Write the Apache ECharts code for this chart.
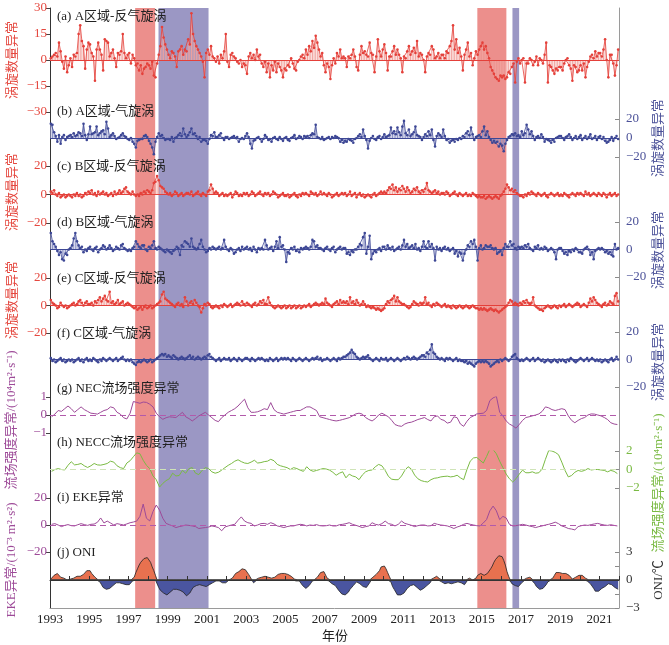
<!DOCTYPE html>
<html>
<head>
<meta charset="utf-8">
<script src="https://cdn.jsdelivr.net/npm/echarts@6/dist/echarts.min.js"></script>
<style>
  html, body { margin: 0; padding: 0; background: #fff; }
  #chart { width: 669px; height: 645px; }
</style>
</head>
<body>
<div id="chart"></div>
<script>
// monthly eddy-count anomalies, one row per year 1993..2021
const aAnti = [
  1, 2, 3, 4, 2, 10, 5, -1, -5, 2, -7, -3,
  1, -4, 3, 2, 4, 15, 20, 11, 8, -5, 6, 10,
  9, 4, 2, -12, 6, 10, 6, 3, -6, 12, 11, 10,
  2, 4, 6, 1, -4, 4, 3, 5, 15, 4, 1, 3,
  4, -2, 3, 1, -3, -2, -6, -3, -8, -5, -4, -2,
  -3, -5, -1, -9, -10, -2, 3, 8, 19, 13, 9, 6,
  3, 1, 5, 4, 2, -4, 5, 6, 8, 3, 6, 5,
  12, 9, 27, 15, 11, 8, 6, 4, 2, -1, -10, 4,
  6, 3, 8, 2, 1, -1, 2, -2, 3, 1, 5, 15,
  -1, -4, 3, 4, 2, 1, -1, -2, 0, -4, -2, -3,
  -8, 2, 4, 1, 3, 0, 6, 2, 3, -2, -4, -1,
  -7, -2, -10, -3, -6, -1, -7, -2, -4, -6, -10, -5,
  -6, -3, -4, 1, -2, -5, -6, -1, 0, 2, 3, 1,
  6, 3, 8, 5, 11, 7, 14, 10, 6, 2, 4, -3,
  -7, -2, -4, -11, -3, 1, -2, 4, 2, 6, 1, 2,
  1, -4, 2, 1, 3, 6, 2, -4, -6, 3, 8, 4,
  5, 3, 2, 10, 4, 3, -7, 2, 12, 5, 2, 6,
  9, 4, -6, 2, 2, 5, 8, 3, 6, 3, 1, -7,
  2, 1, 5, 8, 3, 5, 7, 4, 11, 2, 4, 3,
  0, -7, 2, 4, 3, 8, 6, 1, 2, 4, 1, 3,
  3, 1, 5, 4, 8, 11, 20, 6, 12, 4, 7, 2,
  -6, 3, 6, 10, 2, 4, -3, 1, 5, 3, 6, 8,
  10, 6, 8, 4, 1, -4, -6, -8, -10, -11, -12, -9,
  -10, -9, -11, -10, -7, -8, -4, -2, -13, -1, 1, -2,
  0, 1, -13, -2, -2, 1, 0, -3, -1, 2, -3, 1,
  0, -2, 3, 10, -13, -3, -4, -6, -8, -5, -6, -4,
  -4, -6, -2, 0, 1, -3, -5, -12, -3, -4, -7, -6,
  -3, -6, -2, -10, -4, -1, 2, 3, 1, 5, 2, 4,
  4, 2, 6, 12, 0, -10, 3, 3, -2, -9, -3, 6
];
const aCyc = [
  15, 14, 6, 2, -4, 3, -6, 1, 3, -2, 1, 2,
  3, 1, 5, 2, 3, 6, 5, 2, 15, 3, -2, 4,
  12, 4, 5, 6, 12, 3, 5, 7, 8, 4, 17, 10,
  1, 3, 5, 2, -1, 0, 1, 3, 5, 2, 1, -1,
  -2, 0, -4, -6, -10, -3, -2, -1, -1, 2, 3, 1,
  -3, -6, -10, -17, -4, 1, 5, 2, 3, 0, -2, -1,
  -1, -2, 1, -4, 0, 1, 3, 5, 2, 10, 4, 1,
  3, 6, 10, 4, 5, 2, -1, 1, -4, -2, -2, -3,
  -6, -1, 3, 2, 6, 1, 1, 3, 5, 0, -2, 1,
  1, -1, 0, 1, 2, 0, 1, -4, -1, 0, -1, 2,
  5, 1, -6, -11, -3, -2, 0, 1, -1, -4, -1, 3,
  1, -2, -1, -4, 0, 1, -1, -2, 1, -1, -3, 0,
  1, -2, -3, 0, 1, 3, -1, 0, 2, 1, -1, 2,
  1, 2, 0, 3, 5, 4, 14, 1, 0, -1, 1, -2,
  -1, 0, 1, -1, 1, 0, 2, 1, 0, -4, -2, -5,
  -3, -4, -1, -2, -3, -5, -1, 0, 2, 4, 1, 9,
  2, -2, -11, -3, 0, 2, -1, -2, 1, 2, -1, 1,
  4, 1, 2, 3, 11, 5, 7, 4, 11, 6, 3, 12,
  18, 5, 3, 9, 2, 4, 6, 12, 3, 2, 1, -2,
  1, 4, 2, 7, 3, 9, -2, -9, 2, 5, 3, 1,
  9, 2, -2, -1, -5, -3, -2, -4, -1, -2, 0, -1,
  2, 1, 5, 7, 3, 11, 4, -2, 1, 2, 3, 1,
  7, 12, 3, 7, 1, -2, -5, -3, -5, -4, -9, -6,
  -8, -14, -6, -2, 1, 2, 4, 3, 5, 2, 3, 1,
  7, 3, 5, 14, 9, 4, 7, 2, -2, 1, 2, 0,
  4, 1, -4, -1, -2, -3, -5, -2, -4, 0, 1, 2,
  2, 0, -2, 1, 2, 4, 1, -2, 0, 2, -1, 1,
  3, -2, 0, 2, -1, 1, 4, -1, 0, 2, -2, 1,
  2, -1, 1, -3, -5, -4, -2, 1, -3, 0, 2, -1
];
const bAnti = [
  2, 1, 3, 0, -1, 1, -2, -1, 0, -2, -1, 0,
  -1, -2, 0, -1, 1, -1, 0, -2, -1, 1, 0, 2,
  1, 3, 0, 1, -1, 2, 0, 1, 2, 0, 1, -1,
  0, 1, -1, 2, 0, 1, 3, 1, 2, 4, 5, 2,
  1, 0, 2, 0, -1, 0, -1, 1, 0, 2, 1, 3,
  2, 1, 3, 8, 9, 13, 10, 6, 5, 4, 2, 1,
  0, 1, -1, 0, 2, 1, -1, 0, 1, -1, 0, 1,
  1, 0, 2, -1, 0, 1, 2, 0, -1, 1, 0, -1,
  2, 3, 7, 4, 1, 2, 1, -1, 0, 1, -1, 0,
  -1, 0, 1, -2, 0, 2, 1, -1, 0, -1, 1, 0,
  1, -1, 0, 2, 1, -1, 0, 1, 2, 0, -1, 1,
  0, 1, -1, 0, 2, 1, 0, -2, -1, 0, 1, -1,
  -1, 0, -2, -1, 0, 1, -1, -2, 0, -1, 1, 0,
  1, 0, -1, 2, 1, 0, 1, -1, 0, 2, 0, 1,
  0, -1, 1, 0, -2, -1, 0, 1, -1, 0, 1, 0,
  1, -1, 0, 2, -1, 0, 1, -2, 0, 1, -1, 0,
  -2, -1, 0, -1, -2, 0, 1, -1, 0, 1, 2, 1,
  2, 1, 3, 5, 4, 7, 3, 5, 2, 4, 3, 6,
  4, 2, 5, 3, 1, 2, 4, 3, 5, 2, 1, 3,
  2, 4, 8, 3, 2, 1, 2, 3, 1, 2, 0, 1,
  1, 0, 2, 1, -1, 0, 1, 2, 0, -1, 1, 0,
  -1, 0, 1, -1, 0, -1, 1, 0, -1, -2, -1, -2,
  -2, -1, -3, -2, -1, -2, -3, -2, -1, -2, -3, -1,
  0, 2, 4, 7, 5, 3, 4, 2, 3, 1, 0, -1,
  -1, -2, 0, -1, 1, 0, 2, 1, 0, -1, 1, 0,
  -1, 0, 1, -1, -2, 0, 1, 0, -1, 0, 1, -1,
  0, -1, 1, 0, -1, -2, 0, 1, 0, -1, 1, 0,
  1, 0, -1, 2, 0, 1, -1, 0, 1, 0, -1, 1,
  0, -1, 1, 0, -2, 0, 1, -1, 0, 1, -1, 0
];
const bCyc = [
  12, 6, 4, 2, -1, -4, -2, -7, -8, -3, -4, 0,
  1, 3, 8, 12, 6, 3, 1, 2, -2, 0, -1, 1,
  2, 0, -1, 1, 2, -2, 0, 1, 3, 2, 0, 1,
  3, 1, -1, 0, 2, 1, 0, 3, 4, 1, 0, -1,
  0, -1, 1, 2, 6, 4, 2, 1, 3, 3, 0, -1,
  2, 1, 3, 6, 1, 0, 2, 1, 0, -1, -2, 0,
  -1, -2, -3, -1, 0, 2, 1, -4, 3, 2, 6, 5,
  4, 2, 8, 2, 1, 0, 1, 4, 7, 2, 0, -2,
  -1, 1, 0, 2, 1, 0, 1, 2, 0, 1, 7, 2,
  0, -1, 1, 0, -3, -2, 0, 1, -1, 2, 0, 1,
  2, 0, 1, -1, 2, 0, -2, 1, 0, 1, 0, 7,
  3, 0, 1, 2, -1, 2, 6, 1, 9, 2, 3, 0,
  -9, -2, -3, 1, 0, 2, -1, 0, -2, 1, 0, 1,
  2, 1, 0, 2, 7, 6, 2, 3, 1, 1, 0, -1,
  1, 2, 0, -1, 1, 2, -2, 0, 1, 2, 0, 1,
  1, -3, -2, -4, -1, -2, 0, 0, 2, 4, 3, 9,
  12, -3, 2, 10, -7, -3, -1, -2, 0, 1, -1, 2,
  2, 0, 3, 1, 0, 2, -1, 0, 1, 2, 0, 3,
  7, 2, 4, 1, 2, 3, 1, 4, 0, 1, -1, 2,
  6, 2, 1, 6, 2, 4, 1, -8, 2, 0, 1, -1,
  1, 2, 0, 1, -1, 0, 1, -3, -1, -5, -2, -3,
  -8, -3, 0, 3, 2, 6, 4, 7, 2, -8, 1, 3,
  0, 1, 3, 2, 2, 3, 1, 0, 1, -3, -2, -1,
  -4, 1, 4, 2, 2, 6, 3, 4, 1, 0, 2, 1,
  2, 1, 3, 2, 4, 1, 0, -1, 2, 1, 3, 0,
  1, 0, 2, 1, -1, 0, 1, 0, -2, -7, 0, 1,
  1, -1, -3, -2, -4, -1, -2, 0, -1, 1, 0, -2,
  -2, -3, 0, 1, 2, 0, -4, -2, -7, -1, 0, 1,
  0, 1, 0, -2, -1, -3, -2, -4, -5, 4, 0, 1
];
const cAnti = [
  4, 2, 1, 0, -2, -1, 2, 0, -1, 0, -2, -1,
  0, 1, 2, 0, 1, 3, 4, 2, 0, 2, 3, 1,
  1, 2, 0, 3, 2, 4, 6, 3, 5, 7, 4, 3,
  10, 2, 3, 1, 2, 4, 1, 2, 3, 0, 1, 2,
  1, 0, -1, -2, -1, -3, -2, -1, -3, -1, 0, -2,
  -1, 0, -2, -1, 0, 1, 2, 3, 8, 10, 5, 4,
  3, 2, 1, 0, -1, 1, 2, 0, 1, -1, 6, 3,
  0, 2, 3, 1, 4, 2, 0, -1, -5, -2, 1, 0,
  2, 1, -1, -2, -1, 0, -1, -2, 0, -1, 1, 0,
  -1, 0, 1, -1, 0, 1, 2, 1, 0, 3, 1, 0,
  2, 1, 0, -1, 1, 2, 0, 1, 3, 2, 4, 1,
  1, 6, 2, 0, -1, -2, -1, 0, -1, -2, -1, 0,
  -2, -1, 0, -2, -1, 0, -2, -1, 0, -2, -1, 0,
  -1, 0, 1, -1, 0, 1, 2, 1, 0, 1, 2, 1,
  5, 2, 1, 0, -1, 1, 2, 3, 1, 4, 2, 3,
  2, 3, 1, 6, 2, 3, 1, 4, 2, 0, 1, 3,
  1, -1, 0, -1, -2, -1, -2, -3, -2, -3, -4, -3,
  -2, 1, 3, 2, 4, 5, 7, 3, 6, 3, 2, 1,
  1, 0, -1, -2, -1, 1, 3, 2, 1, 0, 2, 1,
  2, 6, 1, 2, 0, -1, 1, 0, 2, 1, 0, -1,
  0, 1, -1, 0, -1, -2, 0, -1, -2, -1, 0, -1,
  -2, -1, 0, -1, -2, -1, 0, -1, -2, -2, -3, -2,
  -3, -2, -3, -4, -3, -2, -3, -4, -3, -4, -5, -4,
  -3, -2, -1, 0, 2, 4, 3, 1, 2, 1, 0, 2,
  1, 3, 2, 4, 2, 1, 2, 6, 0, -1, -2, -3,
  -3, -4, -2, -1, 0, -1, -2, -1, 0, -1, -2, 0,
  -1, 0, 1, -1, 0, 1, 0, -1, 0, 1, 2, 1,
  -1, 0, 1, 0, -1, 2, 5, 3, 6, 4, 2, 1,
  0, -1, 1, 2, 0, 1, 3, 2, 1, 7, 9, 3
];
const cCyc = [
  1, -1, 0, -2, -1, 0, 1, -1, 0, -2, -1, 0,
  -1, 0, -2, -1, 0, 1, -1, 0, -2, 0, 1, -1,
  0, -1, 1, 0, -1, -2, 0, -1, 1, 0, -1, 0,
  1, 0, -1, 0, 1, -1, 0, 1, 2, 0, -1, 0,
  -1, 0, -2, -3, -4, -2, -1, -2, -1, 0, -1, -2,
  -1, 0, -2, -1, 0, 1, 2, 3, 4, 3, 4, 2,
  3, 2, 1, 3, 2, 1, 0, 1, 2, 1, 0, 1,
  2, 3, 1, 2, 0, 1, 2, 1, 0, 1, 2, 1,
  3, 4, 2, 1, 0, -1, 0, 1, -1, 0, 1, 0,
  0, 1, -1, 0, 1, 0, -1, 1, 0, -1, 0, 1,
  1, 0, -1, 1, 0, -1, 0, 1, 0, 1, 0, -1,
  0, -1, 1, 0, -1, 0, 1, -1, 0, 1, 0, 1,
  0, 1, 0, -1, 1, 0, -1, 0, 1, 0, -1, 0,
  1, 0, -1, 0, 1, 0, 1, 2, 0, 1, -1, 0,
  0, 1, 0, -1, 0, 1, 0, -1, 1, 0, 1, 2,
  2, 3, 4, 5, 7, 5, 4, 2, 1, 0, 1, 2,
  1, 2, 3, 1, 0, -1, 0, 1, 0, -1, 1, 0,
  0, 1, -1, 0, 1, 0, -1, 0, 1, 0, -1, 0,
  1, 0, 2, 1, 0, 1, 2, 1, 0, 1, 2, 3,
  3, 2, 5, 4, 7, 11, 5, 4, 2, 1, 0, 1,
  0, -1, 1, 0, 1, 0, -1, 0, 1, -1, 0, -1,
  -1, -2, -1, -3, -2, -3, -4, -5, -3, -2, -1, -2,
  -1, -2, -1, -2, -3, -5, -4, -3, -2, -1, -2, 0,
  -1, 0, 1, 0, -1, 0, 2, 3, 4, 1, 0, -1,
  0, -1, 0, 1, 0, -1, 0, 1, -1, 0, 1, 0,
  -1, 0, -2, -1, 0, -1, -2, -1, 0, -1, -2, 0,
  -1, 0, -1, -2, 0, -1, 1, 0, -1, -2, -1, 0,
  1, 0, -1, 0, 1, -1, 0, 1, 0, -1, 0, -1,
  0, -2, -1, 0, -1, -2, 0, 1, -1, 0, 2, 0
];

// bimonthly current / EKE anomalies, six values per year 1993..2021
const necFlow = [
  -0.1, 0.05, 0.25, 0.2, 0.35, 0.5,
  0.35, 0.15, 0.3, 0.45, 0.3, 0.2,
  0.1, 0.08, 0.05, 0.15, 0.25, 0.3,
  0.45, 0.4, 0.15, 0.05, -0.15, -0.22,
  0.1, 0.75, 0.7, 0.65, 0.72, 0.7,
  0.6, 0.45, 0.1, -0.1, -0.24, -0.15,
  -0.1, -0.12, -0.14, 0.0, 0.15, -0.1,
  -0.2, -0.33, -0.2, -0.05, 0.05, 0.15,
  0.0, -0.15, -0.3, -0.37, -0.15, 0.0,
  0.15, 0.25, 0.35, 0.5, 0.7, 0.88,
  0.4, 0.15, 0.15, 0.18, 0.25, 0.35,
  0.3, 0.69, 0.3, 0.15, 0.1, 0.05,
  0.1, 0.15, 0.2, 0.25, 0.25, 0.35,
  0.45, 0.45, 0.35, 0.25, -0.1, -0.15,
  -0.2, -0.25, -0.3, -0.33, -0.3, -0.25,
  -0.2, -0.15, -0.05, 0.06, 0.1, 0.05,
  -0.14, -0.25, -0.33, -0.2, 0.0, 0.1,
  0.0, -0.1, -0.3, -0.53, -0.6, -0.63,
  -0.5, -0.43, -0.4, -0.33, -0.25, -0.2,
  -0.14, -0.25, -0.33, -0.1, -0.05, -0.24,
  -0.3, -0.45, -0.4, -0.1, -0.15, -0.5,
  -0.63, -0.35, -0.14, -0.05, 0.06, 0.08,
  0.1, 0.25, 0.8, 0.95, 1.04, 0.16,
  -0.05, -0.33, -0.5, -0.6, -0.73, -0.53,
  -0.3, -0.14, -0.1, -0.05, 0.0, 0.06,
  0.2, 0.45, 0.4, 0.3, 0.25, 0.3,
  0.35, 0.3, -0.05, -0.3, -0.43, -0.3,
  -0.2, -0.14, 0.0, 0.06, 0.05, 0.0,
  -0.05, -0.14, -0.25, -0.43, -0.5, -0.53
];
const neccFlow = [
  -0.2, 0.0, 0.1, 0.0, -0.05, 0.45,
  0.84, 0.5, 0.55, 0.65, 0.4, 0.22,
  0.4, 0.65, 0.5, 0.47, 0.55, 0.65,
  0.9, 0.8, 0.4, 0.2, 0.1, 0.7,
  0.95, 1.38, 1.8, 1.7, 1.0, 0.45,
  0.1, -0.7, -1.1, -1.9, -1.5, -1.2,
  -1.0, -0.4, -0.7, -0.65, -0.1, -0.4,
  0.1, 0.2, -0.4, -0.55, -0.1, 0.2,
  0.1, -0.25, -0.4, -0.3, -0.07, 0.2,
  0.45, 0.65, 0.9, 1.05, 0.85, 0.7,
  0.65, 0.8, 1.0, 0.7, 0.75, 0.85,
  0.9, 1.1, 0.95, 0.55, 0.4, 0.3,
  0.2, 0.0, 0.2, 0.1, -0.07, -0.2,
  0.3, -0.05, -0.2, -0.1, 0.0, 0.1,
  0.05, -0.07, -0.3, -0.62, -0.4, -0.25,
  -0.9, -0.5, -0.7, -0.8, -1.1, -0.6,
  -0.25, -0.1, -0.05, 0.3, 0.55, 0.4,
  -0.1, -0.75, -1.05, -1.1, -1.1, -0.7,
  -0.1, 0.3, 0.05, -0.6, -1.0, -1.2,
  -1.3, -1.35, -1.1, -0.95, -0.9, -0.8,
  -0.75, -0.72, -0.8, -0.75, -0.62, -0.9,
  -1.1, 0.0, 0.9, 1.25, 1.3, 1.0,
  0.7, 1.4, 2.2, 2.15, 1.7, 0.9,
  0.2, -0.5, -1.0, -1.35, -1.0, -0.5,
  -0.07, -0.35, -0.35, -0.25, -0.4, -0.35,
  0.05, 1.1, 2.05, 2.0, 1.85, 1.6,
  0.8, -0.1, -0.8, -0.65, -0.3, -0.1,
  -0.2, -0.1, 0.1, -0.05, 0.0, 0.0,
  -0.05, -0.1, -0.25, -0.1, -0.2, -0.44
];
const ekeAnom = [
  0.5, 1.0, 0.0, -1.2, -0.3, 0.3,
  -0.5, -0.7, 0.2, 1.0, 0.3, -0.3,
  0.5, 0.7, 2.0, 5.2, 1.5, 2.9,
  1.5, 0.0, 1.0, 0.5, 0.0, 0.8,
  1.7, 2.2, 2.9, 6.4, 15.5, 5.0,
  3.0, 10.0, 14.8, 11.0, 5.0, 1.2,
  0.2, -0.7, -1.9, -1.2, -0.7, 0.0,
  -0.3, -0.7, -1.2, -2.6, -2.2, -1.9,
  -1.5, -0.7, -1.2, -1.9, -4.3, -1.5,
  -0.7, 0.0, 0.5, 3.5, 6.0, 2.9,
  1.7, 1.2, -0.7, 0.0, 1.0, 1.2,
  0.5, 1.7, 0.8, -0.7, -1.2, -1.9,
  -1.2, -0.7, -0.7, 0.0, 0.5, 0.2,
  -0.7, 0.0, -0.3, 0.3, -0.5, -0.7,
  -0.5, 0.0, -0.7, -0.7, 0.2, 0.5,
  1.0, 1.7, 0.5, -0.2, -1.0, -1.9,
  -1.2, -0.7, 1.7, 0.5, 0.0, 1.0,
  2.9, 1.0, 0.5, -0.7, 0.5, 2.9,
  1.2, 0.5, -0.2, -1.2, -0.5, 0.0,
  0.0, -0.7, -0.5, 1.2, 0.5, 0.0,
  -0.3, -0.7, -1.5, -2.6, -1.5, -0.7,
  0.5, 1.2, 0.5, 0.0, -0.5, -0.7,
  1.5, 4.0, 10.5, 14.0, 10.5, 4.0,
  6.4, 5.2, 0.5, -0.7, -0.5, 0.0,
  0.5, 0.0, -0.7, -1.2, -1.9, -1.2,
  -0.7, 0.0, 0.5, 1.2, 2.1, 1.0,
  -0.7, -1.5, -2.6, -3.0, -3.6, -1.2,
  -0.5, 0.0, -0.3, 0.3, 0.8, 1.2,
  0.5, 0.0, -0.3, 0.2, -0.3, -0.7
];

// monthly ONI (°C), 1993..2021
const oni = [
  0.1, 0.3, 0.5, 0.7, 0.7, 0.6, 0.3, 0.3, 0.2, 0.1, 0.0, 0.1,
  0.1, 0.1, 0.2, 0.3, 0.4, 0.4, 0.4, 0.4, 0.6, 0.7, 1.0, 1.1,
  1.0, 0.7, 0.5, 0.3, 0.1, 0.0, -0.2, -0.5, -0.8, -1.0, -1.0, -1.0,
  -0.9, -0.8, -0.6, -0.4, -0.3, -0.3, -0.3, -0.3, -0.4, -0.4, -0.5, -0.5,
  -0.5, -0.4, -0.1, 0.3, 0.8, 1.2, 1.6, 1.9, 2.1, 2.3, 2.4, 2.4,
  2.2, 1.9, 1.4, 1.0, 0.5, -0.1, -0.8, -1.1, -1.3, -1.4, -1.5, -1.6,
  -1.5, -1.3, -1.1, -1.0, -1.0, -1.0, -1.1, -1.1, -1.2, -1.3, -1.5, -1.7,
  -1.7, -1.4, -1.1, -0.8, -0.7, -0.6, -0.6, -0.5, -0.5, -0.6, -0.7, -0.7,
  -0.7, -0.5, -0.4, -0.3, -0.3, -0.1, -0.1, -0.1, -0.2, -0.3, -0.3, -0.3,
  -0.1, 0.0, 0.1, 0.2, 0.4, 0.7, 0.8, 0.9, 1.0, 1.2, 1.3, 1.1,
  0.9, 0.6, 0.4, 0.0, -0.3, -0.2, 0.1, 0.2, 0.3, 0.3, 0.4, 0.4,
  0.4, 0.3, 0.2, 0.2, 0.2, 0.3, 0.5, 0.6, 0.7, 0.7, 0.7, 0.7,
  0.6, 0.6, 0.4, 0.4, 0.3, 0.1, -0.1, -0.1, -0.1, -0.3, -0.6, -0.8,
  -0.9, -0.8, -0.6, -0.4, -0.1, 0.0, 0.1, 0.3, 0.5, 0.8, 0.9, 0.9,
  0.7, 0.2, -0.1, -0.3, -0.4, -0.5, -0.6, -0.8, -1.1, -1.3, -1.5, -1.6,
  -1.6, -1.5, -1.3, -1.0, -0.8, -0.6, -0.4, -0.2, -0.2, -0.4, -0.6, -0.7,
  -0.8, -0.8, -0.6, -0.3, 0.0, 0.3, 0.5, 0.6, 0.7, 1.0, 1.4, 1.6,
  1.5, 1.2, 0.8, 0.4, -0.2, -0.7, -1.0, -1.3, -1.6, -1.6, -1.6, -1.6,
  -1.4, -1.2, -0.9, -0.7, -0.6, -0.4, -0.5, -0.6, -0.8, -1.0, -1.1, -1.0,
  -0.9, -0.7, -0.6, -0.5, -0.3, 0.0, 0.2, 0.4, 0.4, 0.3, 0.1, -0.2,
  -0.4, -0.4, -0.3, -0.3, -0.4, -0.4, -0.4, -0.3, -0.3, -0.2, -0.2, -0.3,
  -0.4, -0.5, -0.3, 0.0, 0.2, 0.2, 0.0, 0.1, 0.2, 0.5, 0.6, 0.7,
  0.5, 0.5, 0.5, 0.7, 0.9, 1.2, 1.5, 1.9, 2.2, 2.4, 2.6, 2.6,
  2.5, 2.1, 1.6, 0.9, 0.4, -0.1, -0.4, -0.5, -0.6, -0.7, -0.7, -0.6,
  -0.3, -0.2, 0.1, 0.2, 0.3, 0.3, 0.1, -0.1, -0.4, -0.7, -0.8, -1.0,
  -0.9, -0.9, -0.7, -0.5, -0.2, 0.0, 0.1, 0.2, 0.5, 0.8, 0.9, 0.8,
  0.7, 0.7, 0.7, 0.7, 0.5, 0.5, 0.3, 0.1, 0.2, 0.3, 0.5, 0.5,
  0.5, 0.5, 0.4, 0.2, -0.1, -0.3, -0.4, -0.6, -0.9, -1.2, -1.3, -1.2,
  -1.0, -0.9, -0.8, -0.7, -0.5, -0.4, -0.4, -0.5, -0.7, -0.8, -1.0, -1.0
];

// shaded El Nino / La Nina periods (decimal years)
const warmSpans = [[1997.34, 1998.36], [2014.78, 2016.26]];
const coldSpans = [[1998.53, 2001.08], [2016.57, 2016.91]];

const firstYear = 1993;
const lastYear = 2022;

const FONT = '"Liberation Serif", "Times New Roman", "Noto Sans CJK SC", serif';
const RED = '#e4403a', RED_STEM = '#f1a29d', RED_TXT = '#e5483f';
const BLUE = '#3d4795', BLUE_STEM = '#8c92c5', BLUE_TXT = '#4c5299';
const MAG = '#9d4a98', MAG_ZERO = '#b25aab', GREEN = '#7aba43';
const WARM = '#ec8f8c', COLD = '#9b97c4';

// decimal-year position of each monthly / bimonthly sample
const monthX = [];
const biX = [];
for (let y = firstYear; y < lastYear; y++) {
  for (let m = 0; m < 12; m++) monthX.push(y + (m + 0.5) / 12);
  for (let k = 0; k < 6; k++) biX.push(y + (2 * k + 1) / 12);
}

const panels = [
  { title: '(a) A区域-反气旋涡', top: 8, height: 104, min: -30, max: 30, step: 15, side: 'left', txt: RED_TXT, titleY: 17 },
  { title: '(b) A区域-气旋涡', top: 119, height: 38, min: -20, max: 20, step: 20, side: 'right', txt: BLUE_TXT, titleY: 112 },
  { title: '(c) B区域-反气旋涡', top: 166, height: 57, min: -20, max: 20, step: 20, side: 'left', txt: RED_TXT, titleY: 167 },
  { title: '(d) B区域-气旋涡', top: 222, height: 55, min: -20, max: 20, step: 20, side: 'right', txt: BLUE_TXT, titleY: 223 },
  { title: '(e) C区域-反气旋涡', top: 278, height: 55, min: -20, max: 20, step: 20, side: 'left', txt: RED_TXT, titleY: 279 },
  { title: '(f) C区域-气旋涡', top: 332, height: 55, min: -20, max: 20, step: 20, side: 'right', txt: BLUE_TXT, titleY: 334 },
  { title: '(g) NEC流场强度异常', top: 397, height: 36, min: -1, max: 1, step: 1, side: 'left', txt: MAG, titleY: 389 },
  { title: '(h) NECC流场强度异常', top: 451, height: 37, min: -2, max: 2, step: 2, side: 'right', txt: GREEN, titleY: 443 },
  { title: '(i) EKE异常', top: 498, height: 54, min: -20, max: 20, step: 20, side: 'left', txt: MAG, titleY: 498 },
  { title: '(j) ONI', top: 552, height: 56, min: -3, max: 3, step: 1.5, side: 'right', txt: '#333', titleY: 553 }
];
const FRAME = panels.length;

const minus = v => (v < 0 ? '\u2212' + (-v) : String(v));

const grids = panels.map(p => ({ left: 50, right: 50, top: p.top, height: p.height }));
grids.push({ left: 50, right: 50, top: 8, height: 600 });

const xAxes = panels.map((p, i) => ({
  gridIndex: i, type: 'value', min: firstYear, max: lastYear, interval: 1,
  show: i === panels.length - 1,
  axisLine: { show: true, lineStyle: { color: '#333', width: 1 } },
  axisTick: { show: true, inside: true, length: 4, lineStyle: { color: '#333' } },
  axisLabel: {
    color: '#222', fontSize: 13, fontFamily: FONT, margin: 5,
    formatter: v => (v % 2 === 1 ? String(v) : '')
  },
  splitLine: { show: false }, z: 6
}));
xAxes.push({
  gridIndex: FRAME, type: 'value', min: firstYear, max: lastYear, position: 'top',
  axisLine: { show: true, lineStyle: { color: '#9a9a9a' } },
  axisTick: { show: false }, axisLabel: { show: false }, splitLine: { show: false }
});

const yAxes = panels.map((p, i) => ({
  gridIndex: i, type: 'value', position: p.side, min: p.min, max: p.max, interval: p.step,
  axisLine: { show: false }, splitLine: { show: false },
  axisTick: { show: true, inside: p.side === 'right', length: 4, lineStyle: { color: p.side === 'left' ? '#444' : '#8a8a8a' } },
  axisLabel: {
    color: p.txt, fontSize: 13, fontFamily: FONT, margin: p.side === 'left' ? 3 : 7,
    formatter: v => (p.step === 1.5 && v % 3 !== 0 ? '' : minus(v))
  }
}));
yAxes.push(
  { gridIndex: FRAME, type: 'value', position: 'left', min: 0, max: 1, axisLine: { show: true, lineStyle: { color: '#333' } }, axisTick: { show: false }, axisLabel: { show: false }, splitLine: { show: false } },
  { gridIndex: FRAME, type: 'value', position: 'right', min: 0, max: 1, axisLine: { show: true, lineStyle: { color: '#9a9a9a' } }, axisTick: { show: false }, axisLabel: { show: false }, splitLine: { show: false } }
);

function zeroLine(color, width, type) {
  return { silent: true, symbol: 'none', label: { show: false }, lineStyle: { color, width, type }, data: [{ yAxis: 0 }] };
}

function eddySeries(idx, values, color, stem) {
  const pts = values.map((v, i) => [monthX[i], v]);
  return [
    { type: 'bar', xAxisIndex: idx, yAxisIndex: idx, data: pts, barWidth: 1, itemStyle: { color: stem }, z: 3, silent: true },
    {
      type: 'line', xAxisIndex: idx, yAxisIndex: idx, data: pts, symbol: 'circle', symbolSize: 2.6,
      lineStyle: { color, width: 0.8 }, itemStyle: { color }, z: 4, silent: true,
      markLine: zeroLine(color, 1, 'solid')
    }
  ];
}

function flowSeries(idx, values, color, zeroColor) {
  return {
    type: 'line', xAxisIndex: idx, yAxisIndex: idx, data: values.map((v, i) => [biX[i], v]),
    symbol: 'none', lineStyle: { color, width: 1 }, z: 4, silent: true,
    markLine: zeroLine(zeroColor, 1.2, [6, 4])
  };
}

const series = [
  {
    type: 'line', xAxisIndex: FRAME, yAxisIndex: FRAME, data: [[firstYear, 0]], symbol: 'none',
    lineStyle: { width: 0 }, z: 1, silent: true,
    markArea: {
      silent: true,
      data: warmSpans.map(s => [{ xAxis: s[0], itemStyle: { color: WARM, opacity: 1 } }, { xAxis: s[1] }])
        .concat(coldSpans.map(s => [{ xAxis: s[0], itemStyle: { color: COLD, opacity: 1 } }, { xAxis: s[1] }]))
    }
  },
  ...eddySeries(0, aAnti, RED, RED_STEM),
  ...eddySeries(1, aCyc, BLUE, BLUE_STEM),
  ...eddySeries(2, bAnti, RED, RED_STEM),
  ...eddySeries(3, bCyc, BLUE, BLUE_STEM),
  ...eddySeries(4, cAnti, RED, RED_STEM),
  ...eddySeries(5, cCyc, BLUE, BLUE_STEM),
  flowSeries(6, necFlow, MAG, MAG_ZERO),
  flowSeries(7, neccFlow, GREEN, '#cfe4b8'),
  flowSeries(8, ekeAnom, MAG, MAG_ZERO),
  {
    type: 'line', xAxisIndex: 9, yAxisIndex: 9, data: oni.map((v, i) => [monthX[i], Math.max(v, 0)]),
    symbol: 'none', lineStyle: { color: '#222', width: 0.8 }, areaStyle: { color: '#e8714f', opacity: 1 }, z: 4, silent: true
  },
  {
    type: 'line', xAxisIndex: 9, yAxisIndex: 9, data: oni.map((v, i) => [monthX[i], Math.min(v, 0)]),
    symbol: 'none', lineStyle: { color: '#222', width: 0.8 }, areaStyle: { color: '#4a55a0', opacity: 1 }, z: 4, silent: true,
    markLine: zeroLine('#444', 1.6, 'solid')
  }
];

const font = size => size + 'px ' + FONT;
const graphic = panels.map(p => ({
  type: 'text', x: 57, y: p.titleY, z: 10,
  style: { text: p.title, fill: '#222', font: font(13), textAlign: 'left', textVerticalAlign: 'middle', align: 'left', verticalAlign: 'middle' }
}));
const axisNames = [
  { text: '涡旋数量异常', x: 13, y: 60, fill: RED_TXT },
  { text: '涡旋数量异常', x: 13, y: 192, fill: RED_TXT },
  { text: '涡旋数量异常', x: 13, y: 300, fill: RED_TXT },
  { text: '流场强度异常/(10\u2074m\u00b2\u00b7s\u207b\u00b9)', x: 12, y: 420, fill: MAG },
  { text: 'EKE异常/(10\u207b\u00b3 m\u00b2\u00b7s\u00b2)', x: 12, y: 560, fill: MAG },
  { text: '涡旋数量异常', x: 659, y: 138, fill: BLUE_TXT },
  { text: '涡旋数量异常', x: 659, y: 250, fill: BLUE_TXT },
  { text: '涡旋数量异常', x: 659, y: 362, fill: BLUE_TXT },
  { text: '流场强度异常/(10\u2074m\u00b2\u00b7s\u207b\u00b9)', x: 659, y: 483, fill: GREEN },
  { text: 'ONI/\u2103', x: 659, y: 580, fill: '#333' }
];
axisNames.forEach(n => graphic.push({
  type: 'text', x: n.x, y: n.y, rotation: Math.PI / 2, z: 10,
  style: { text: n.text, fill: n.fill, font: font(13), textAlign: 'center', textVerticalAlign: 'middle', align: 'center', verticalAlign: 'middle' }
}));
graphic.push({
  type: 'text', x: 335, y: 637, z: 10,
  style: { text: '年份', fill: '#222', font: font(13), textAlign: 'center', textVerticalAlign: 'middle', align: 'center', verticalAlign: 'middle' }
});

const chart = echarts.init(document.getElementById('chart'));
chart.setOption({
  animation: false,
  backgroundColor: '#fff',
  grid: grids,
  xAxis: xAxes,
  yAxis: yAxes,
  series: series,
  graphic: graphic
});
</script>
</body>
</html>
